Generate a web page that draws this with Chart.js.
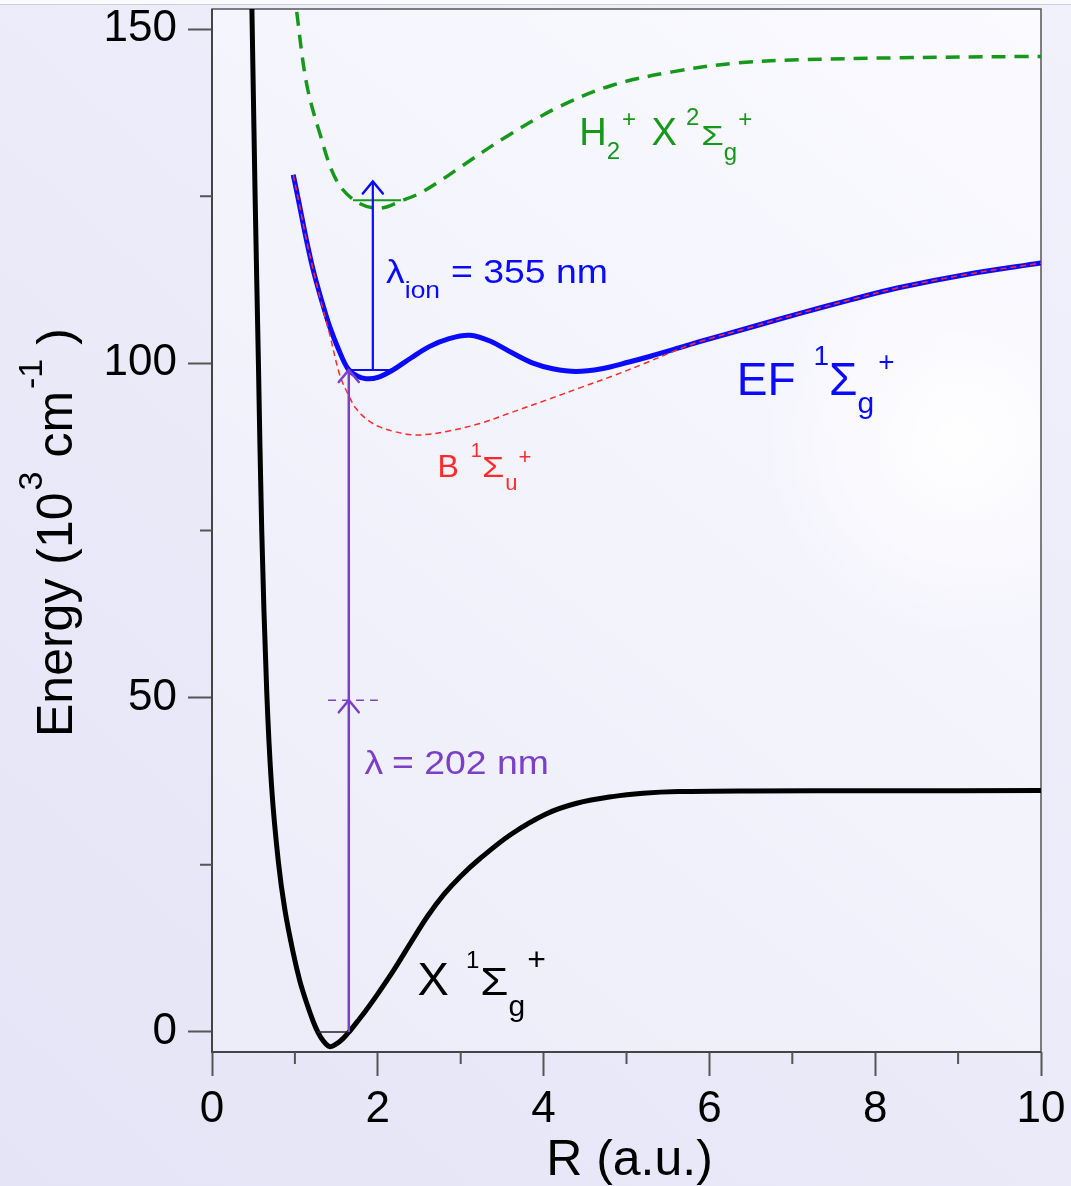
<!DOCTYPE html>
<html>
<head>
<meta charset="utf-8">
<script src="https://cdn.jsdelivr.net/npm/chart.js@4.4.1/dist/chart.umd.min.js"></script>
<style>
  html, body { margin: 0; padding: 0; background: #ebebf9; }
  #wrap { width: 1071px; height: 1186px; }
</style>
</head>
<body>
<div id="wrap"><canvas id="grafico" width="1071" height="1186"></canvas></div>
<script>
// ticks
var xTicks = [0, 2, 4, 6, 8, 10];
var xMinor = [1, 3, 5, 7, 9];
var yTicks = [0, 50, 100, 150];
var yMinor = [25, 75, 125];

// X 1Sigma g+ (ground state)
var xR = [0.47, 0.48, 0.52, 0.56, 0.60, 0.66, 0.72, 0.80, 0.88, 0.98, 1.06, 1.14, 1.22, 1.28, 1.34, 1.42, 1.50, 1.58, 1.66, 1.75, 1.85, 2.0, 2.2, 2.4, 2.6, 2.8, 3.0, 3.23, 3.6, 4.03, 4.4, 4.83, 5.2, 5.63, 6.5, 8.0, 10.0];
var xE = [160, 154, 125, 100, 75, 51, 36.5, 25.5, 18.2, 11.8, 7.6, 4.4, 1.6, -0.1, -1.3, -2.2, -1.8, -1.0, 0.1, 1.5, 3.1, 5.7, 9.4, 13.4, 17.3, 20.6, 23.3, 25.9, 29.5, 32.6, 34.2, 35.2, 35.7, 35.95, 36.05, 36.08, 36.1];

// EF 1Sigma g+
var efR = [0.98, 1.05, 1.13, 1.22, 1.32, 1.42, 1.53, 1.64, 1.75, 1.86, 2.0, 2.18, 2.4, 2.62, 2.86, 3.11, 3.36, 3.63, 3.88, 4.11, 4.39, 4.7, 5.03, 5.3, 5.63, 5.87, 6.5, 7.07, 7.7, 8.28, 9.1, 10];
var efE = [128.2, 124, 119, 114, 109.5, 105.5, 102, 99.2, 98.1, 97.7, 97.9, 99, 100.8, 102.5, 103.7, 104.2, 103.3, 101.5, 100, 99.2, 98.8, 99.2, 100.2, 101.1, 102.3, 103.2, 105.4, 107.4, 109.5, 111.3, 113.3, 115];

// B 1Sigma u+
var bR = [0.98, 1.05, 1.13, 1.22, 1.32, 1.42, 1.54, 1.64, 1.74, 1.88, 2.02, 2.2, 2.42, 2.62, 2.83, 3.23, 3.6, 4.03, 4.43, 4.83, 5.2, 5.63, 5.87, 6.5, 7.07, 7.7, 8.28, 9.1, 10];
var bE = [128.2, 124, 119, 114, 109, 104.3, 98.3, 95.4, 93.2, 91.5, 90.5, 89.8, 89.3, 89.4, 89.8, 91, 92.6, 94.5, 96.3, 98.1, 99.9, 102.1, 103.2, 105.4, 107.4, 109.5, 111.3, 113.3, 115];

// H2+ X 2Sigma g+
var ionR = [0.995, 1.02, 1.14, 1.30, 1.50, 1.74, 2.02, 2.30, 2.50, 2.79, 2.99, 3.55, 4.19, 4.83, 5.55, 6.31, 7.07, 8.28, 9.84, 10];
var ionE = [156, 152.8, 141.9, 134.4, 127.4, 124.2, 123.2, 124.4, 125.4, 127.6, 129.3, 133.9, 138.4, 141.6, 143.6, 144.9, 145.4, 145.7, 145.9, 145.9];

// niveis v=0 e nivel virtual
var nivelXR = [1.27, 1.66], nivelXE = [0, 0];
var nivelEFR = [1.62, 2.18], nivelEFE = [99, 99];
var nivelIonR = [1.70, 2.28], nivelIonE = [124.4, 124.4];
var virtualR = [1.40, 2.00], virtualE = [49.6, 49.6];

// setas
var seta202R = [1.65, 1.65], seta202E = [0, 99], pontas202 = [49.6, 99];
var seta355R = [1.94, 1.94], seta355E = [99, 127.2], pontas355 = [127.2];

var FONTE = '"Liberation Sans", Arial, Helvetica, sans-serif';
var VERDE = '#16991a', AZUL = '#0a0aff', VERMELHO = '#ff2a2a', ROXO = '#7c3fc8';

function pts(rr, ee) {
    return rr.map(function (r, i) { return { x: r, y: ee[i] }; });
}

function linha(dados, cor, largura, tracos, suave) {
    return {
        data: dados,
        showLine: true,
        borderColor: cor,
        borderWidth: largura,
        borderDash: tracos || [],
        pointRadius: 0,
        pointHoverRadius: 0,
        tension: suave ? 0.35 : 0,
        clip: 0
    };
}

// texto com sub/sobrescritos: [texto, tamanho, subida, espaco antes, escala x]
function rico(ctx, x, y, partes, cor, sx) {
    ctx.save();
    ctx.translate(x, y);
    ctx.scale(sx || 1, 1);
    ctx.fillStyle = cor;
    ctx.textBaseline = 'alphabetic';
    ctx.textAlign = 'left';
    var cx = 0;
    partes.forEach(function (p) {
        cx += p[3] || 0;
        ctx.font = p[1] + 'px ' + FONTE;
        var esc = p[4] || 1;
        ctx.save();
        ctx.translate(cx, -(p[2] || 0));
        ctx.scale(esc, 1);
        ctx.fillText(p[0], 0, 0);
        ctx.restore();
        cx += ctx.measureText(p[0]).width * esc;
    });
    ctx.restore();
}

var rotulos = [
    { r: 4.43, e: 132.6, cor: VERDE, sx: 1, partes: [["H", 38, 0, 0], ["2", 24, -14, 0], ["+", 24, 18, 2], [" X", 38, 0, 5], ["2", 24, 20, 9], ["\u03A3", 28, 0, 2, 1.3], ["g", 24, -15, 0], ["+", 24, 18, 1]] },
    { r: 2.10, e: 112.0, cor: AZUL, sx: 1.1, partes: [["\u03BB", 34, 0, 0], ["ion", 24, -15, 0], ["= 355 nm", 34, 0, 10]] },
    { r: 6.33, e: 95.26, cor: AZUL, sx: 1, partes: [["EF", 46, 0, 0], ["1", 28, 30, 18], ["\u03A3", 46, 0, 0], ["g", 30, -18, 0], ["+", 28, 24, 4]] },
    { r: 2.72, e: 83.0, cor: VERMELHO, sx: 1, partes: [["B", 32, 0, 0], ["1", 20, 20, 12], ["\u03A3", 30, 0, 0, 1.2], ["u", 22, -13, 1], ["+", 22, 13, 1]] },
    { r: 1.84, e: 38.6, cor: ROXO, sx: 1.1, partes: [["\u03BB", 34, 0, 0], ["= 202 nm", 34, 0, 8]] },
    { r: 2.48, e: 5.53, cor: '#000', sx: 1, partes: [["X", 47, 0, 0], ["1", 24, 27, 17], ["\u03A3", 38, 0, 1, 1.2], ["g", 30, -21, 0], ["+", 32, 25, 2]] }
];

var fundo = {
    id: 'fundo',
    beforeDraw: function (chart) {
        var ctx = chart.ctx, a = chart.chartArea;
        var W = chart.width, H = chart.height;
        ctx.save();
        var g = ctx.createLinearGradient(0, H, W, 0);
        g.addColorStop(0, '#e4e4f6');
        g.addColorStop(1, '#f1f1fc');
        ctx.fillStyle = g;
        ctx.fillRect(0, 0, W, H);
        ctx.fillStyle = '#fbfbff';
        ctx.fillRect(0, 0, W, 4);
        ctx.fillStyle = '#cfcfd8';
        ctx.fillRect(0, 4, W, 1);
        var g2 = ctx.createLinearGradient(a.left, a.bottom, a.right, a.top);
        g2.addColorStop(0, '#ececf9');
        g2.addColorStop(1, '#fafaff');
        ctx.fillStyle = g2;
        ctx.fillRect(a.left, a.top, a.right - a.left, a.bottom - a.top);
        var g3 = ctx.createRadialGradient(960, 440, 10, 960, 440, 200);
        g3.addColorStop(0, 'rgba(255,255,255,0.9)');
        g3.addColorStop(1, 'rgba(255,255,255,0)');
        ctx.fillStyle = g3;
        ctx.fillRect(a.left, a.top, a.right - a.left, a.bottom - a.top);
        ctx.restore();
    },
    beforeDatasetsDraw: function (chart) {
        var ctx = chart.ctx, a = chart.chartArea;
        var sx = chart.scales.x, sy = chart.scales.y;
        ctx.save();
        ctx.strokeStyle = '#555';
        ctx.lineWidth = 1.5;
        ctx.strokeRect(a.left, a.top, a.right - a.left, a.bottom - a.top);
        ctx.strokeStyle = '#444';
        ctx.lineWidth = 2;
        ctx.beginPath();
        ctx.moveTo(a.left, a.top);
        ctx.lineTo(a.left, a.bottom);
        ctx.lineTo(a.right, a.bottom);
        ctx.stroke();
        ctx.strokeStyle = '#555';
        ctx.beginPath();
        xMinor.forEach(function (v) {
            var px = sx.getPixelForValue(v);
            ctx.moveTo(px, a.bottom);
            ctx.lineTo(px, a.bottom + 12);
        });
        yMinor.forEach(function (v) {
            var py = sy.getPixelForValue(v);
            ctx.moveTo(a.left, py);
            ctx.lineTo(a.left - 12, py);
        });
        ctx.stroke();
        ctx.restore();
    },
    afterDatasetsDraw: function (chart) {
        var ctx = chart.ctx;
        var sx = chart.scales.x, sy = chart.scales.y;
        function pontas(r, lista, cor) {
            ctx.save();
            ctx.strokeStyle = cor;
            ctx.lineWidth = 2.5;
            ctx.lineCap = 'round';
            lista.forEach(function (e) {
                var px = sx.getPixelForValue(r), py = sy.getPixelForValue(e);
                ctx.beginPath();
                ctx.moveTo(px - 10, py + 12);
                ctx.lineTo(px, py);
                ctx.lineTo(px + 10, py + 12);
                ctx.stroke();
            });
            ctx.restore();
        }
        pontas(seta202R[0], pontas202, ROXO);
        pontas(seta355R[0], pontas355, AZUL);

        rotulos.forEach(function (l) {
            rico(ctx, sx.getPixelForValue(l.r), sy.getPixelForValue(l.e), l.partes, l.cor, l.sx);
        });
    },
    afterDraw: function (chart) {
        var ctx = chart.ctx, a = chart.chartArea;
        ctx.save();
        ctx.fillStyle = '#000';
        ctx.font = '50px ' + FONTE;
        ctx.textAlign = 'center';
        ctx.textBaseline = 'alphabetic';
        ctx.fillText('R (a.u.)', (a.left + a.right) / 2 + 3, 1175);
        ctx.restore();

        ctx.save();
        ctx.translate(72, 737);
        ctx.rotate(-Math.PI / 2);
        rico(ctx, 0, 0, [["Energy (10", 50, 0, 0], ["3", 34, 30, 2], [" cm", 50, 0, 0], ["-1", 34, 30, 2], [" )", 50, 0, 0]], '#000', 1);
        ctx.restore();
    }
};

var ctx = document.getElementById('grafico').getContext('2d');
var grafico = new Chart(ctx, {
    type: 'scatter',
    data: {
        datasets: [
            linha(pts(virtualR, virtualE), ROXO, 1.5, [8, 6], false),
            linha(pts(seta355R, seta355E), AZUL, 2.2, null, false),
            linha(pts(seta202R, seta202E), ROXO, 2.5, null, false),
            linha(pts(nivelIonR, nivelIonE), VERDE, 2, null, false),
            linha(pts(nivelEFR, nivelEFE), AZUL, 2, null, false),
            linha(pts(nivelXR, nivelXE), '#222', 1.5, null, false),
            linha(pts(bR, bE), VERMELHO, 1.5, [6, 4], true),
            linha(pts(efR, efE), AZUL, 5, null, true),
            linha(pts(ionR, ionE), VERDE, 3.5, [14, 9], true),
            linha(pts(xR, xE), '#000', 5, null, true)
        ]
    },
    options: {
        responsive: false,
        animation: false,
        devicePixelRatio: 1,
        layout: { padding: { top: 9, right: 30, left: 0, bottom: 0 } },
        plugins: { legend: { display: false }, tooltip: { enabled: false } },
        events: [],
        scales: {
            x: {
                type: 'linear',
                min: 0,
                max: 10,
                afterBuildTicks: function (s) { s.ticks = xTicks.map(function (v) { return { value: v }; }); },
                afterFit: function (s) { s.height = 134; s.paddingLeft = 0; s.paddingRight = 0; },
                grid: { drawOnChartArea: false, drawTicks: true, tickLength: 24, tickColor: '#555', tickWidth: 2 },
                border: { display: false },
                ticks: { autoSkip: false, maxRotation: 0, padding: 7, color: '#000', font: { family: FONTE, size: 44 } }
            },
            y: {
                type: 'linear',
                min: -3,
                max: 153,
                afterBuildTicks: function (s) { s.ticks = yTicks.map(function (v) { return { value: v }; }); },
                afterFit: function (s) { s.width = 212; s.paddingTop = 0; s.paddingBottom = 0; },
                grid: { drawOnChartArea: false, drawTicks: true, tickLength: 24, tickColor: '#555', tickWidth: 2 },
                border: { display: false },
                ticks: { autoSkip: false, padding: 11, color: '#000', font: { family: FONTE, size: 44 } }
            }
        }
    },
    plugins: [fundo]
});
</script>
</body>
</html>
